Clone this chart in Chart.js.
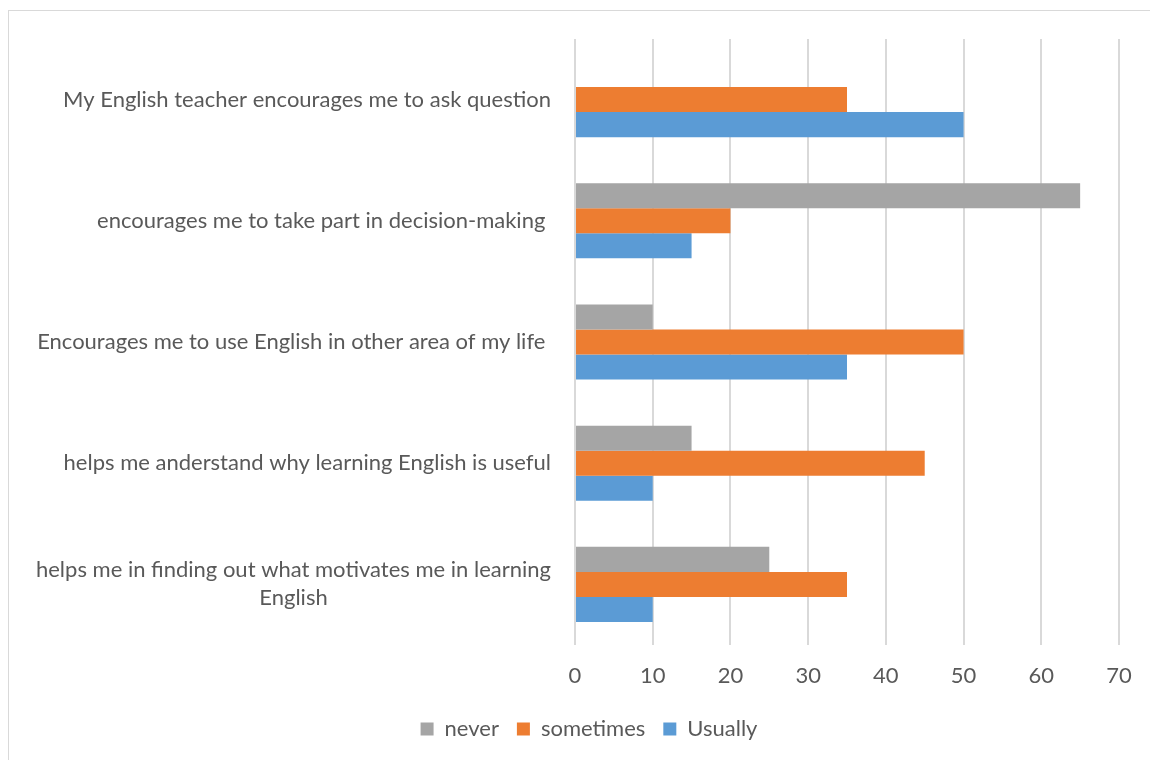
<!DOCTYPE html>
<html>
<head>
<meta charset="utf-8">
<script src="https://cdn.jsdelivr.net/npm/chart.js@4/dist/chart.umd.min.js"></script>
<style>
  html, body { margin: 0; padding: 0; background: #fff; overflow: hidden; }
  #frame { position: absolute; left: 8px; top: 10px; width: 1300px; height: 900px; border: 1px solid #d9d9d9; }
  #wrap { position: absolute; left: 0; top: 0; width: 1150px; height: 760px; }
</style>
</head>
<body>
<div id="frame"></div>
<div id="wrap"><canvas id="chart" width="1150" height="760"></canvas></div>
<script>
// Survey statements (one array per label, one entry per text line)
const categories = [
  ['My English teacher encourages me to ask question'],
  ['encourages me to take part in decision-making '],
  ['Encourages me to use English in other area of my life '],
  ['helps me anderstand why learning English is useful'],
  ['helps me in finding out what motivates me in learning', 'English']
];
const seriesNames = ['never', 'sometimes', 'Usually'];
const neverValues = [null, 65, 10, 15, 25];
const sometimesValues = [35, 20, 50, 45, 35];
const usuallyValues = [50, 15, 35, 10, 10];
const axisMin = 0;
const axisMax = 70;
const axisStep = 10;

const FONT = 'Lato, "Open Sans", sans-serif';
const TEXT = '#595959';
const GRID = '#d9d9d9';

// Statement labels: block right-aligned against the plot, lines centred within the block
const categoryLabels = {
  id: 'categoryLabels',
  afterDraw(chart) {
    const { ctx, chartArea } = chart;
    const yScale = chart.scales.y;
    ctx.save();
    ctx.font = '22px ' + FONT;
    ctx.fillStyle = TEXT;
    ctx.textAlign = 'center';
    ctx.textBaseline = 'middle';
    const right = chartArea.left - 24;
    const lineHeight = 28;
    chart.data.labels.forEach((lines, i) => {
      const yc = yScale.getPixelForValue(i);
      const w = Math.max(...lines.map(l => ctx.measureText(l).width));
      const cx = right - w / 2;
      lines.forEach((l, k) => {
        ctx.fillText(l, cx, yc + (k - (lines.length - 1) / 2) * lineHeight);
      });
    });
    ctx.restore();
  }
};

new Chart(document.getElementById('chart'), {
  type: 'bar',
  data: {
    labels: categories,
    datasets: [
      { label: seriesNames[0], data: neverValues, backgroundColor: '#A5A5A5' },
      { label: seriesNames[1], data: sometimesValues, backgroundColor: '#ED7D31' },
      { label: seriesNames[2], data: usuallyValues, backgroundColor: '#5B9BD5' }
    ]
  },
  options: {
    indexAxis: 'y',
    responsive: false,
    animation: false,
    devicePixelRatio: 1,
    layout: { padding: { left: 59, right: 31, top: 39, bottom: 10 } },
    datasets: { bar: { categoryPercentage: 0.62, barPercentage: 1, borderWidth: 0 } },
    scales: {
      x: {
        min: axisMin,
        max: axisMax,
        ticks: { stepSize: axisStep, padding: 18, color: TEXT, font: { family: FONT, size: 22 } },
        grid: { color: GRID, lineWidth: 2, drawTicks: false },
        border: { display: false },
        afterFit(s) { s.height = 55; s.paddingLeft = 0; s.paddingRight = 0; }
      },
      y: {
        ticks: { display: false },
        grid: { display: false },
        border: { display: false },
        afterFit(s) { s.width = 516; }
      }
    },
    plugins: {
      legend: {
        position: 'bottom',
        labels: { boxWidth: 13, boxHeight: 13, padding: 18, color: TEXT, font: { family: FONT, size: 22 } }
      },
      tooltip: { enabled: false }
    }
  },
  plugins: [categoryLabels]
});
</script>
</body>
</html>
